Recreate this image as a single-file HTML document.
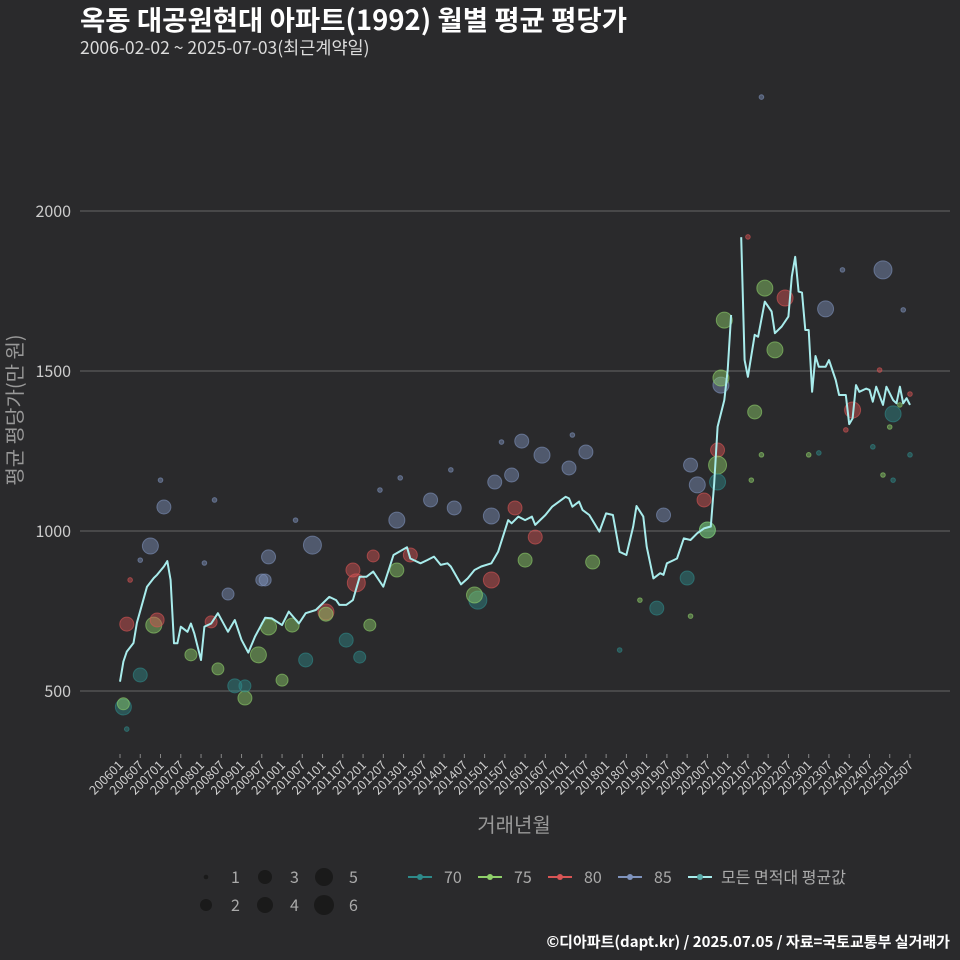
<!DOCTYPE html>
<html><head><meta charset="utf-8"><style>
html,body{margin:0;padding:0;background:#2a2a2c;}
svg{display:block;font-family:"Noto Sans CJK KR","Liberation Sans",sans-serif;}
</style></head><body>
<svg id="chart" width="960" height="960" viewBox="0 0 960 960" xmlns="http://www.w3.org/2000/svg">
<rect width="960" height="960" fill="#2a2a2c"/>
<text x="80" y="30" fill="#ffffff" font-size="27.5" font-weight="bold">옥동 대공원현대 아파트(1992) 월별 평균 평당가</text>
<text x="80" y="54" fill="#dddddd" font-size="17.5">2006-02-02 ~ 2025-07-03(최근계약일)</text>
<g id="grid"></g>
<g id="bubbles"></g>
<g id="line"></g>
<g id="xaxis"></g>
<text x="514" y="832" fill="#999999" font-size="20" text-anchor="middle">거래년월</text>
<text transform="translate(22,410) rotate(-90)" fill="#999999" font-size="20" text-anchor="middle">평균 평당가(만 원)</text>
<g id="legend"></g>
<text x="950" y="947" fill="#ffffff" font-size="15" font-weight="bold" text-anchor="end">©디아파트(dapt.kr) / 2025.07.05 / 자료=국토교통부 실거래가</text>
</svg>
<script>
const yTicks = [500, 1000, 1500, 2000];
const lineMonth = [0,1,2,4,5,8,10,11,13,14,15,16,17,18,20,21,22,24,25,27,29,32,34,36,38,40,43,45,48,50,53,55,58,62,64,65,67,69,71,73,75,78,81,85,86,89,91,93,95,97,98,101,103,105,107,110,112,115,116,118,120,122,123,126,128,132,133,134,136,137,139,142,144,146,148,150,152,153,155,156,158,160,161,162,164,165,167,169,171,173,175,176,177,179,180,181,182,183,184,185,186,188,189,191,193,194,196,198,199,200,201,202,203,204,205,206,207,209,210,212,213,215,216,217,218,219,221,222,223,224,226,227,229,230,231,232,233,234];
const lineVal = [529,592,623,650,713,826,853,863,889,906,847,649,649,701,685,711,680,597,701,711,743,685,722,660,620,670,729,727,706,748,711,743,753,794,784,769,769,784,857,857,873,826,925,949,914,899,909,920,894,899,889,833,852,878,889,899,935,1034,1024,1045,1034,1045,1019,1050,1076,1107,1102,1076,1092,1066,1050,998,1055,1050,935,925,1014,1078,1045,951,852,868,863,899,909,914,977,972,993,1008,1014,1149,1326,1409,1503,1675,null,null,1918,1534,1482,1613,1607,1717,1686,1618,1639,1670,1795,1857,1748,1745,1628,1628,1435,1547,1513,1513,1534,1472,1425,1425,1334,1352,1456,1435,1445,1441,1404,1451,1394,1451,1409,1399,1451,1399,1415,1394];
const bubbleMonth = [1,1,2,2,6,9,13,10,11,12,21,27,29,32,34,37,37,42,44,43,41,44,48,51,57,61,61,55,69,70,67,71,74,75,82,86,82,92,99,106,105,110,110,111,116,117,119,120,123,125,133,138,140,159,161,169,168,171,173,174,174,177,177,177,178,178,179,188,191,194,197,190,186,209,226,217,229,3,6,25,28,52,77,83,98,113,134,148,154,169,187,190,204,207,214,232,226,229,234,225,234,231,215,223,228];
const bubbleVal = [450,460,381,709,550,953,1075,706,722,1159,613,716,569,803,516,478,516,847,919,847,613,700,534,706,956,747,740,597,878,838,659,606,706,922,878,925,1034,1097,1072,784,800,847,1047,1153,1175,1072,1281,909,981,1237,1197,1247,903,759,1050,1206,853,1144,1097,1003,1003,1253,1206,1153,1456,1478,1659,1372,1759,1566,1728,2356,1919,1694,1816,1378,1366,847,909,900,1097,1034,1128,1166,1191,1278,1300,628,784,734,1159,1238,1238,1244,1816,1691,1175,1159,1238,1503,1428,1394,1316,1263,1325];
const bubbleSize = [5,3,1,4,4,5,4,5,4,1,3,3,3,3,4,4,3,3,4,3,5,5,3,4,6,5,4,4,4,6,4,3,3,3,4,4,5,4,4,6,5,5,5,4,4,4,4,4,4,5,4,4,4,4,4,4,4,5,4,5,5,4,6,5,5,5,5,4,5,5,5,1,1,5,6,5,5,1,1,1,1,1,1,1,1,1,1,1,1,1,1,1,1,1,1,1,1,1,1,1,1,1,1,1,1];
const bubbleType = [70,75,70,80,70,85,85,75,80,85,75,80,75,85,70,75,70,85,85,85,75,75,75,75,85,80,75,70,80,80,70,70,75,80,75,80,85,85,85,70,75,80,85,85,85,80,85,75,80,85,85,85,75,70,85,85,70,85,80,70,75,80,75,70,85,75,75,75,75,75,80,85,80,85,85,80,70,80,85,85,85,85,85,85,85,85,85,70,75,75,75,75,75,70,85,85,75,70,70,80,80,75,80,70,75];
const typeColors = {70:'#2e8a8a',75:'#8fd06a',80:'#d85555',85:'#7f93bd'};
const sizeRadius = {1:2.3,2:5,3:6,4:7,5:8,6:9};
const legendTypes = [70,75,80,85];
const legendSizes = [1,2,3,4,5,6];

const NS='http://www.w3.org/2000/svg';
const x0=80,x1=950;
function xs(m){return 120+m*3.376;}
function ys(v){return 211+(2000-v)*0.32;}
function mk(tag,attrs,parent){const e=document.createElementNS(NS,tag);for(const k in attrs)e.setAttribute(k,attrs[k]);parent.appendChild(e);return e;}

const grid=document.getElementById('grid');
yTicks.forEach(t=>{
  const l=mk('line',{x1:x0,x2:x1,y1:ys(t),y2:ys(t),stroke:'#666666','stroke-width':1},grid);
  
  
  const tx=mk('text',{x:71,y:ys(t)+6,fill:'#cccccc','font-size':16,'text-anchor':'end'},grid);
  tx.textContent=t;
  
  
});

const xa=document.getElementById('xaxis');
for(let m=0;m<=234;m+=6){
  const yr=2006+Math.floor(m/12), mo=(m%12)+1;
  const lab=yr+(mo<10?'0':'')+mo;
  const tk=mk('line',{x1:xs(m),x2:xs(m),y1:754,y2:758,stroke:'#888','stroke-width':1},xa);
  
  
  const t=mk('text',{transform:`translate(${xs(m)+4},${766}) rotate(-45)`,fill:'#cccccc','font-size':12.5,'text-anchor':'end'},xa);
  t.textContent=lab;
  
  
}

const bg=document.getElementById('bubbles');
bubbleMonth.forEach((m,i)=>{
  const c=typeColors[bubbleType[i]];
  const b=mk('circle',{cx:xs(m),cy:ys(bubbleVal[i]),r:sizeRadius[bubbleSize[i]],fill:c,'fill-opacity':0.45,stroke:c,'stroke-opacity':0.6,'stroke-width':1},bg);
  
  
});

const lg=document.getElementById('line');
let d='',pen=false;
lineMonth.forEach((m,i)=>{
  const v=lineVal[i];
  if(v===null){pen=false;return;}
  d+=(pen?'L':'M')+xs(m).toFixed(1)+','+ys(v).toFixed(1);
  pen=true;
});
const p=mk('path',{d:d,fill:'none',stroke:'#a8ecec','stroke-width':2,'stroke-linejoin':'round'},lg);



const leg=document.getElementById('legend');
legendSizes.forEach((s,i)=>{
  const col=Math.floor(i/2), row=i%2;
  const cx=206+col*59, cy=877+row*28;
  const c=mk('circle',{cx:cx,cy:cy,r:sizeRadius[s]+(s>1?1:0),fill:'#1a1a1a'},leg);
  
  
  const t=mk('text',{x:cx+25,y:cy+6,fill:'#aaaaaa','font-size':16},leg);
  t.textContent=s;
  
  
});
const lx=[408,478,548,618];
legendTypes.forEach((ty,i)=>{
  const c=typeColors[ty];
  const l=mk('line',{x1:lx[i],x2:lx[i]+24,y1:877,y2:877,stroke:c,'stroke-width':2},leg);
  
  
  const dot=mk('circle',{cx:lx[i]+12,cy:877,r:3,fill:c},leg);
  
  
  const t=mk('text',{x:lx[i]+36,y:883,fill:'#aaaaaa','font-size':16},leg);
  t.textContent=ty;
  
  
});
const al=mk('line',{x1:688,x2:712,y1:877,y2:877,stroke:'#a8ecec','stroke-width':2},leg);


const ad=mk('circle',{cx:700,cy:877,r:3,fill:'#5aaaa8'},leg);


const at=mk('text',{x:721,y:883,fill:'#aaaaaa','font-size':16},leg);
at.textContent='모든 면적대 평균값';


</script>
</body></html>
